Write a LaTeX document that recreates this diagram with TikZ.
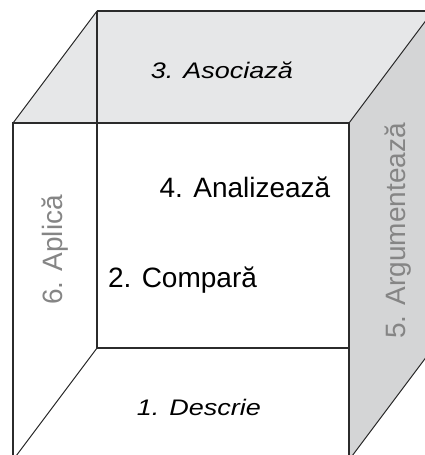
\documentclass[tikz,border=0pt]{standalone}
\usepackage{fontspec}
\setmainfont{Liberation Sans}
\newfontfamily\wideit{Liberation Sans}[FakeStretch=1.2]
\definecolor{topgray}{HTML}{E6E7E8}
\definecolor{sidegray}{HTML}{D4D5D6}
\definecolor{edge}{HTML}{2B2B2B}
\definecolor{labgray}{HTML}{858585}
\tikzset{
  edgeline/.style={draw=edge, line width=1.2pt},
  uplabel/.style={font=\fontsize{28}{30}\selectfont, inner sep=0pt, anchor=base, text=black},
  itlabel/.style={font=\wideit\itshape\fontsize{22.5}{26}\selectfont, inner sep=0pt, anchor=base, text=black},
  sidelabel/.style={font=\fontsize{28}{30}\selectfont, inner sep=0pt, anchor=base, rotate=90, text=labgray}
}
\begin{document}
\begin{tikzpicture}[x=1pt,y=-1pt]
\useasboundingbox (0,0) rectangle (425,455);
\clip (0,0) rectangle (425,455);
% corners
\coordinate (FTL) at (13,123);
\coordinate (FTR) at (349,123);
\coordinate (FBL) at (13,460);
\coordinate (FBR) at (349,460);
\coordinate (BTL) at (97,11);
\coordinate (BTR) at (433,11);
\coordinate (BBL) at (97,348);
\coordinate (BBR) at (433,348);
% hidden back bottom edge (covered by right face)
\draw[edgeline] (BBL) -- (BBR);
% faces
\fill[sidegray] (FTR) -- (BTR) -- (BBR) -- (FBR) -- cycle;
\fill[topgray] (FTL) -- (BTL) -- (BTR) -- (FTR) -- cycle;
% back edges
\draw[edgeline] (BTL) -- (BBL);
\draw[edgeline, line width=1.6pt] (BTL) -- (BTR);
% diagonals
\draw[edgeline, line width=1pt] (FTL) -- (BTL);
\draw[edgeline, line width=1pt] (FTR) -- (BTR);
\draw[edgeline, line width=1pt] (FBL) -- (BBL);
\draw[edgeline, line width=1pt] (FBR) -- (BBR);
% front face
\draw[edgeline] (FBL) -- (FTL) -- (FTR) -- (FBR);
% labels
\node[itlabel] (asoc) at (222,78) {3. Asociază};
\node[uplabel] (anal) at (245,197) {4. Analizează};
\node[uplabel] (comp) at (182.5,287) {2. Compară};
\node[itlabel] (desc) at (199,415) {1. Descrie};
\node[sidelabel] (apli) at (62,250) {6. Aplică};
\node[sidelabel] (argu) at (405,231) {5. Argumentează};
\end{tikzpicture}
\end{document}
